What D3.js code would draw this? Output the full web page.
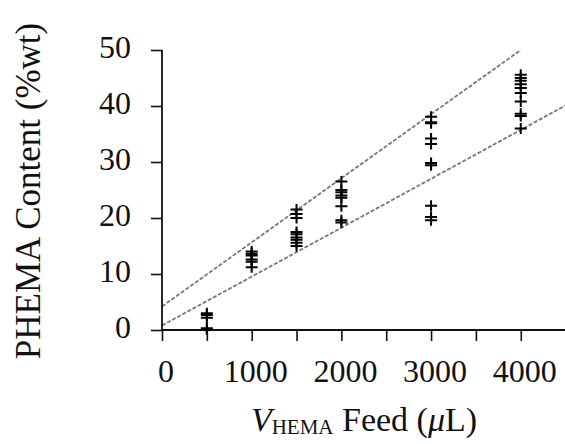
<!DOCTYPE html>
<html><head><meta charset="utf-8">
<script src="https://cdn.jsdelivr.net/npm/d3@7"></script>
<style>body{margin:0;background:#fff}svg{display:block}text{font-family:"Liberation Serif","Times New Roman",serif;fill:#111}</style>
</head><body>
<svg id="c" width="565" height="444"></svg>
<script>
const feeds = [500, 1000, 1500, 2000, 3000, 4000];
const content500  = [3.0, 2.7, 2.2, 0.3, 0.1];
const content1000 = [14.0, 13.6, 13.3, 12.6, 12.2, 11.2];
const content1500 = [21.5, 20.7, 20.0, 17.5, 17.1, 16.5, 16.1, 15.6, 15.0];
const content2000 = [26.5, 25.0, 24.6, 24.0, 23.6, 22.1, 19.6, 19.2];
const content3000 = [38.1, 37.1, 36.9, 34.2, 33.2, 29.8, 29.4, 22.2, 20.2, 19.6];
const content4000 = [45.6, 45.0, 44.5, 43.9, 43.2, 42.3, 40.8, 38.6, 38.2, 36.0];
const upperLine = [[0, 4.2], [4000, 50]];
const lowerLine = [[0, 0.8], [4500, 40.1]];
const xTicks = [0, 500, 1000, 1500, 2000, 2500, 3000, 3500, 4000];
const xLabels = [0, 1000, 2000, 3000, 4000];
const yTicks = [0, 10, 20, 30, 40, 50];

const groups = [content500, content1000, content1500, content2000, content3000, content4000];
const svg = d3.select("#c");
const x = d3.scaleLinear().domain([0, 4500]).range([162, 565.6]);
const y = d3.scaleLinear().domain([0, 50]).range([330, 50]);

// dashed fit lines
const line = d3.line().x(d => x(d[0])).y(d => y(d[1]));
[upperLine, lowerLine].forEach(l => {
  svg.append("path").attr("d", line(l)).attr("fill", "none")
    .attr("stroke", "#777").attr("stroke-width", 1.8).attr("stroke-dasharray", "4,1.8");
});

// axes
const xAxis = d3.axisBottom(x).tickValues(xTicks).tickSize(11).tickFormat(() => "");
const gx = svg.append("g").attr("transform", "translate(0,330)").call(xAxis);
gx.select(".domain").attr("d", `M${x(0)},0H565`).attr("stroke", "#111").attr("stroke-width", 1.8);
gx.selectAll(".tick line").attr("stroke", "#111").attr("stroke-width", 1.6);

const yAxis = d3.axisLeft(y).tickValues(yTicks).tickSize(11).tickFormat(() => "");
const gy = svg.append("g").attr("transform", `translate(${x(0)},0)`).call(yAxis);
gy.select(".domain").attr("d", `M0,${y(0)}V${y(50)}`).attr("stroke", "#111").attr("stroke-width", 1.8);
gy.selectAll(".tick line").attr("stroke", "#111").attr("stroke-width", 1.6);

// tick labels
svg.selectAll(".xl").data(xLabels).join("text").attr("class", "xl")
  .attr("x", d => x(d) + 4).attr("y", 382).attr("text-anchor", "middle")
  .attr("font-size", 32).text(d => d);
svg.selectAll(".yl").data(yTicks).join("text").attr("class", "yl")
  .attr("x", 131).attr("y", d => y(d) + 8).attr("text-anchor", "end")
  .attr("font-size", 32).text(d => d);

// markers
const pts = [];
groups.forEach((g, i) => g.forEach(v => pts.push([feeds[i], v])));
const m = svg.append("g").attr("stroke", "#000").attr("stroke-width", 2).attr("fill", "none");
pts.forEach(p => {
  const cx = x(p[0]), cy = y(p[1]);
  m.append("path").attr("d", `M${cx-6},${cy}H${cx+6}M${cx},${cy-5.5}V${cy+5.5}`);
});

// axis titles
svg.append("text").attr("transform", "translate(40,191) rotate(-90)")
  .attr("text-anchor", "middle").attr("font-size", 35).text("PHEMA Content (%wt)");
const xt = svg.append("text").attr("x", 364).attr("y", 431).attr("text-anchor", "middle").attr("font-size", 34);
xt.append("tspan").attr("font-style", "italic").text("V");
xt.append("tspan").attr("font-size", 21).attr("dy", 3).text("HEMA");
xt.append("tspan").attr("dy", -3).text(" Feed (");
xt.append("tspan").attr("font-style", "italic").text("μ");
xt.append("tspan").text("L)");
</script>
</body></html>
